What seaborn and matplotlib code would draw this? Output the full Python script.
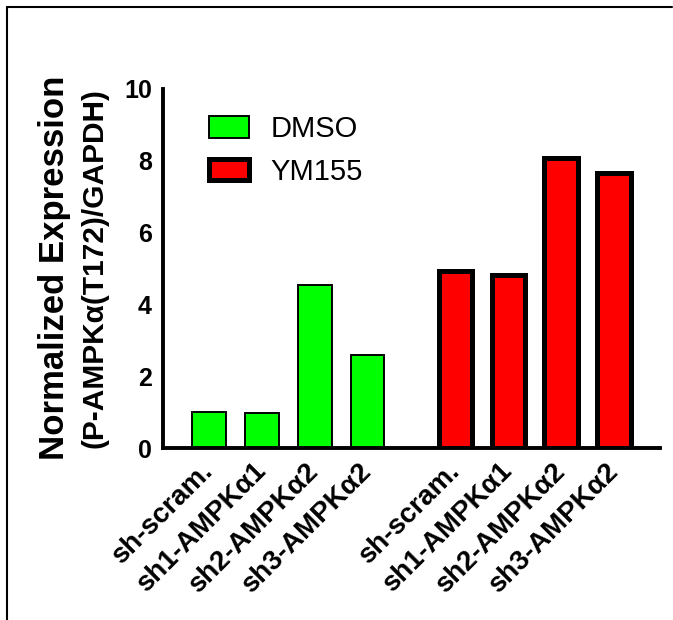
import matplotlib
matplotlib.use("Agg")
import matplotlib.pyplot as plt
import seaborn as sns
import pandas as pd
from matplotlib.patches import Patch
from matplotlib.lines import Line2D

categories = ["sh-scram.", "sh1-AMPKα1", "sh2-AMPKα2", "sh3-AMPKα2"]
dmso_values = [1.0, 0.97, 4.55, 2.58]
ym155_values = [4.92, 4.83, 8.07, 7.67]
groups = ["DMSO", "YM155"]
yticks = [0, 2, 4, 6, 8, 10]

sns.set_style("white")
plt.rcParams['font.family'] = ['Liberation Sans', 'DejaVu Sans']
plt.rcParams['text.color'] = 'black'
plt.rcParams['xtick.color'] = 'black'
plt.rcParams['ytick.color'] = 'black'
plt.rcParams['axes.labelcolor'] = 'black'

fig = plt.figure(figsize=(6.73, 6.2), dpi=100)
ax = fig.add_axes([163/673, 1-448/620, (660-163)/673, (448-89)/620])

gap = 1.667
pos_dmso = [0, 1, 2, 3]
pos_ym = [p + 3 + gap for p in range(4)]

df_d = pd.DataFrame({"x": pos_dmso, "y": dmso_values})
df_y = pd.DataFrame({"x": pos_ym, "y": ym155_values})

sns.barplot(data=df_d, x="x", y="y", native_scale=True, width=0.64, errorbar=None,
            color="#00ff00", saturation=1, edgecolor="black", linewidth=1.4, ax=ax)
sns.barplot(data=df_y, x="x", y="y", native_scale=True, width=0.63, errorbar=None,
            color="#ff0000", saturation=1, edgecolor="black", linewidth=3.6, ax=ax)

ax.set_xlim(-0.873, pos_ym[-1] + 0.873)
ax.set_ylim(0, 10)
ax.set_yticks(yticks)
ax.set_yticklabels([str(v) for v in yticks], fontsize=18, fontweight="bold", color="black")
ax.set_xticks(pos_dmso + pos_ym)
ax.set_xticklabels(categories + categories, fontsize=20, fontweight="bold", color="black",
                   rotation=45, ha="right", va="center", rotation_mode="anchor")
ax.set_xlabel("")
ax.set_ylabel("")

for s in ["top", "right"]:
    ax.spines[s].set_visible(False)
for s in ["left", "bottom"]:
    ax.spines[s].set_linewidth(2.8)
    ax.spines[s].set_color("black")
ax.tick_params(axis="both", direction="out", length=7, width=2.4, color="black")
ax.tick_params(axis="y", pad=1)
ax.tick_params(axis="x", pad=7)

handles = [Patch(facecolor="#00ff00", edgecolor="black", linewidth=1.4),
           Patch(facecolor="#ff0000", edgecolor="black", linewidth=3.6)]
leg = ax.legend(handles, groups, loc="upper left", bbox_to_anchor=(0.040, 1.0),
                frameon=False, fontsize=21, handlelength=1.38, handleheight=0.76,
                handletextpad=0.72, labelspacing=0.5, labelcolor="black")

fig.text(55/673, 1-267.5/620, "Normalized Expression", rotation=90, color="black",
         fontsize=25, fontweight="bold", ha="center", va="center")
fig.text(95/673, 1-268/620, "(P-AMPKα(T172)/GAPDH)", rotation=90, color="black",
         fontsize=21.5, fontweight="bold", ha="center", va="center")

# frame lines (top and left)
fig.add_artist(Line2D([7/673, 7/673], [0, 1-7/620], color="black",
                      lw=1.5, transform=fig.transFigure))
fig.add_artist(Line2D([7/673, 672/673], [1-7/620, 1-7/620], color="black",
                      lw=1.5, transform=fig.transFigure))

fig.savefig("out.png", dpi=100)
